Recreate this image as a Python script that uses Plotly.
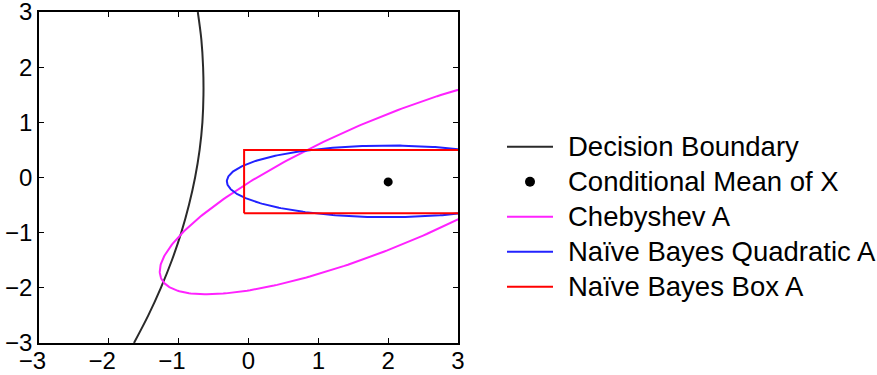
import numpy as np
import plotly.graph_objects as go

# Decision boundary: x position read at each y level
boundary_y = [-3.0, -2.5, -2.0, -1.5, -1.0, -0.5, 0.0, 0.5, 1.0, 1.5, 2.0, 2.5, 3.0]
boundary_x = [-1.64, -1.435, -1.255, -1.097, -0.963, -0.853, -0.765, -0.70, -0.66, -0.645, -0.65, -0.675, -0.726]

# Conditional mean of X
mean_x = [2.0]
mean_y = [-0.08]

# Chebyshev region: ellipse around the mean with shape matrix
cheb_cov = [[10.7, 5.3], [5.3, 4.15]]

# Naive Bayes quadratic region: axis-aligned ellipse (semi-axes)
nbq_center = [2.0, -0.07]
nbq_semi = [2.31, 0.65]

# Naive Bayes box region: [x0, x1] x [y0, y1]
box_x = [-0.063, 4.063]
box_y = [-0.647, 0.5]

tick_vals = [-3, -2, -1, 0, 1, 2, 3]
# x labels keep the digit centred on its tick (minus sign hangs to the left)
x_tick_text = ["\u2212" + str(abs(v)) + "\u2007" if v < 0 else str(v) for v in tick_vals]

legend_labels = ["Decision Boundary", "Conditional Mean of X", "Chebyshev A",
                 "Naïve Bayes Quadratic A", "Naïve Bayes Box A"]

BOUNDARY_C, MEAN_C, CHEB_C, NBQ_C, BOX_C = "#2a2a2a", "black", "#ff22ff", "#2222ff", "#ff0000"
FONT = "Liberation Sans, Arial, Helvetica"

t = np.linspace(0, 2 * np.pi, 400)

# Chebyshev ellipse from its matrix via Cholesky factor
L = np.linalg.cholesky(np.array(cheb_cov))
cheb = L @ np.vstack([np.cos(t), np.sin(t)])
cheb_x = mean_x[0] + cheb[0]
cheb_y = mean_y[0] + cheb[1]

nbq_x = nbq_center[0] + nbq_semi[0] * np.cos(t)
nbq_y = nbq_center[1] + nbq_semi[1] * np.sin(t)

rect_x = [box_x[0], box_x[1], box_x[1], box_x[0], box_x[0]]
rect_y = [box_y[0], box_y[0], box_y[1], box_y[1], box_y[0]]

fig = go.Figure()
fig.add_trace(go.Scatter(x=boundary_x, y=boundary_y, mode="lines", line_shape="spline",
                         line=dict(color=BOUNDARY_C, width=2), name=legend_labels[0]))
fig.add_trace(go.Scatter(x=mean_x, y=mean_y, mode="markers",
                         marker=dict(color=MEAN_C, size=9), name=legend_labels[1]))
fig.add_trace(go.Scatter(x=cheb_x, y=cheb_y, mode="lines",
                         line=dict(color=CHEB_C, width=2), name=legend_labels[2]))
fig.add_trace(go.Scatter(x=nbq_x, y=nbq_y, mode="lines",
                         line=dict(color=NBQ_C, width=2), name=legend_labels[3]))
fig.add_trace(go.Scatter(x=rect_x, y=rect_y, mode="lines",
                         line=dict(color=BOX_C, width=2), name=legend_labels[4]))

axis_common = dict(range=[-3, 3], tickvals=tick_vals, ticks="inside", ticklen=5,
                   tickcolor="black", showline=True, linecolor="black", linewidth=1.5,
                   mirror="ticks", showgrid=False, zeroline=False, automargin=False,
                   ticklabeloverflow="allow",
                   tickfont=dict(family=FONT, size=24, color="black"))
fig.update_xaxes(**axis_common, ticktext=x_tick_text, ticklabelstandoff=-5)
fig.update_yaxes(**axis_common)

# Legend box drawn beside the axes (paper coordinates)
PLOT_W, PLOT_H = 419, 331
def px_x(p):
    return (p - 39) / PLOT_W
def px_y(p):
    return (343 - p) / PLOT_H

row_px = [146.7, 181.7, 216.7, 251.7, 286.7]
sample_colors = [BOUNDARY_C, None, CHEB_C, NBQ_C, BOX_C]
shapes, annotations = [], []
for label, color, ry in zip(legend_labels, sample_colors, row_px):
    yp = px_y(ry)
    if color is None:
        r = 5
        shapes.append(dict(type="circle", xref="paper", yref="paper",
                           x0=px_x(530 - r), x1=px_x(530 + r),
                           y0=px_y(ry + r), y1=px_y(ry - r),
                           fillcolor=MEAN_C, line=dict(width=0)))
    else:
        shapes.append(dict(type="line", xref="paper", yref="paper",
                           x0=px_x(507), x1=px_x(553), y0=yp, y1=yp,
                           line=dict(color=color, width=2)))
    annotations.append(dict(text=label, xref="paper", yref="paper",
                            x=px_x(566), y=yp, xanchor="left", yanchor="middle",
                            showarrow=False,
                            font=dict(family=FONT, size=27.5, color="black")))

fig.update_layout(
    width=877, height=375,
    margin=dict(l=39, r=419, t=12, b=32),
    plot_bgcolor="white", paper_bgcolor="white",
    showlegend=False,
    shapes=shapes, annotations=annotations,
)

fig.write_html("out.html")
